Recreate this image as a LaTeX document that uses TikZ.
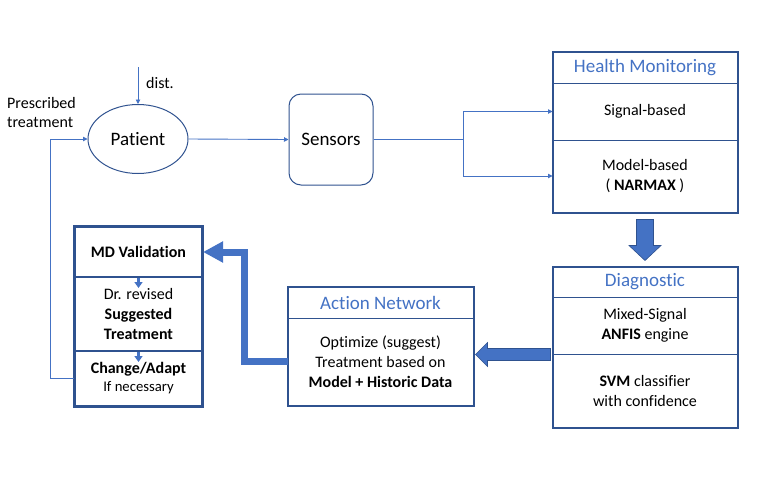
\documentclass[tikz,border=0pt]{standalone}
\usepackage{fontspec}
\setmainfont{Carlito}[Ligatures={NoCommon}]
\usetikzlibrary{arrows.meta,shapes.geometric,calc}
\definecolor{lb}{HTML}{4472C4}
\definecolor{db}{HTML}{2F528F}
\begin{document}
\begin{tikzpicture}[x=1pt,y=-1pt,
  txt/.style={font=\fontsize{16}{20}\selectfont, text=black},
  big/.style={font=\fontsize{19}{23}\selectfont, text=black},
  cell/.style={draw=db, line width=1pt, inner sep=0pt, align=center, txt},
  ttl/.style={cell, font=\fontsize{19}{23}\selectfont, text=lb},
  outer/.style={draw=db, line width=2pt},
  conn/.style={draw=lb, line width=0.9pt, -{Triangle[length=4.5pt,width=4.5pt]}},
  fat/.style={fill=lb, draw=db, line width=0.6pt},
  fatline/.style={draw=lb, line width=7pt, line join=miter, -{Triangle[width=20pt,length=20pt]}},
  inarr/.style={draw=lb, line width=2.5pt, -{Triangle[width=8pt,length=6pt]}}
]
\useasboundingbox (0,0) rectangle (760,490);

% Patient and sensors
\node[ellipse, draw=db, line width=1pt, minimum width=100pt, minimum height=69pt, inner sep=0pt, big] (pat) at (138,139) {Patient};
\node[rectangle, rounded corners=12pt, draw=db, line width=1pt, minimum width=84pt, minimum height=91pt, inner sep=0pt, big] (sens) at (331,139.5) {Sensors};

\coordinate (dtop) at (138,67);
\draw[conn] (dtop) -- (pat.north);
\node[anchor=west, txt, inner sep=0pt] (dist) at (146,83) {dist.};
\node[anchor=west, txt, align=left, inner sep=0pt, font=\fontsize{16}{19}\selectfont] (presc) at (7,113) {Prescribed\\treatment};

% Health monitoring
\node[ttl, minimum width=184pt, minimum height=31pt] (hmT) at (645,67.5) {Health Monitoring};
\node[cell, minimum width=184pt, minimum height=57pt] (hmS) at (645,111.5) {Signal-based};
\node[cell, minimum width=184pt, minimum height=72pt] (hmM) at (645,176) {Model-based\\( \textbf{NARMAX} )};
\draw[outer] (hmT.north west) rectangle (hmM.south east);

% Diagnostic
\node[ttl, minimum width=184pt, minimum height=30pt] (dT) at (645,282) {Diagnostic};
\node[cell, minimum width=184pt, minimum height=57pt] (dA) at (645,325.5) {Mixed-Signal\\\textbf{ANFIS} engine};
\node[cell, minimum width=184pt, minimum height=73pt] (dS) at (645,390.5) {\textbf{SVM} classifier\\with confidence};
\draw[outer] (dT.north west) rectangle (dS.south east);

% Action network
\node[ttl, minimum width=185pt, minimum height=31pt] (aT) at (380.5,302.5) {Action Network};
\node[cell, minimum width=185pt, minimum height=87pt] (aB) at (380.5,361.5) {Optimize (suggest)\\Treatment based on\\\textbf{Model + Historic Data}};
\draw[outer] (aT.north west) rectangle (aB.south east);

% MD
\node[cell, line width=2pt, minimum width=127pt, minimum height=50pt] (mT) at (138.5,252) {\textbf{MD Validation}};
\node[cell, line width=2pt, minimum width=127pt, minimum height=74pt] (mS) at (138.5,314) {Dr. revised\\\textbf{Suggested}\\\textbf{Treatment}};
\node[cell, line width=2pt, minimum width=127pt, minimum height=55pt, font=\fontsize{16}{18}\selectfont] (mC) at (138.5,378.5) {\textbf{Change/Adapt}\\{\fontsize{14.7}{18}\selectfont If necessary}};
\draw[outer] (mT.north west) rectangle (mC.south east);
\draw[inarr] (mT.south) -- ++(0,10);
\draw[inarr] (mS.south) -- ++(0,10);

% thin connectors
\draw[conn] (pat.east) -- (sens.west);
\coordinate (split) at (463,139.5);
\draw[draw=lb, line width=0.9pt] (sens.east) -- (split);
\draw[conn] (split) |- (hmS.west);
\draw[conn] (split) |- (hmM.west);
\draw[conn] (mC.west) -- ++(-24,0) |- (pat.west);

% fat arrows
\filldraw[fat] ($(hmM.south)+(-8.5,7)$) -- ++(17,0) -- ++(0,26) -- ++(7.5,0) -- ++(-16,15) -- ++(-16,-15) -- ++(7.5,0) -- cycle;
\filldraw[fat] ($(dS.north west)+(-2,-5)$) -- ++(-63,0) -- ++(0,-6) -- ++(-12,12) -- ++(12,12) -- ++(0,-6) -- ++(63,0) -- cycle;
\draw[fatline] (aB.west) -- ++(-43,0) |- (mT.east);
\end{tikzpicture}
\end{document}
